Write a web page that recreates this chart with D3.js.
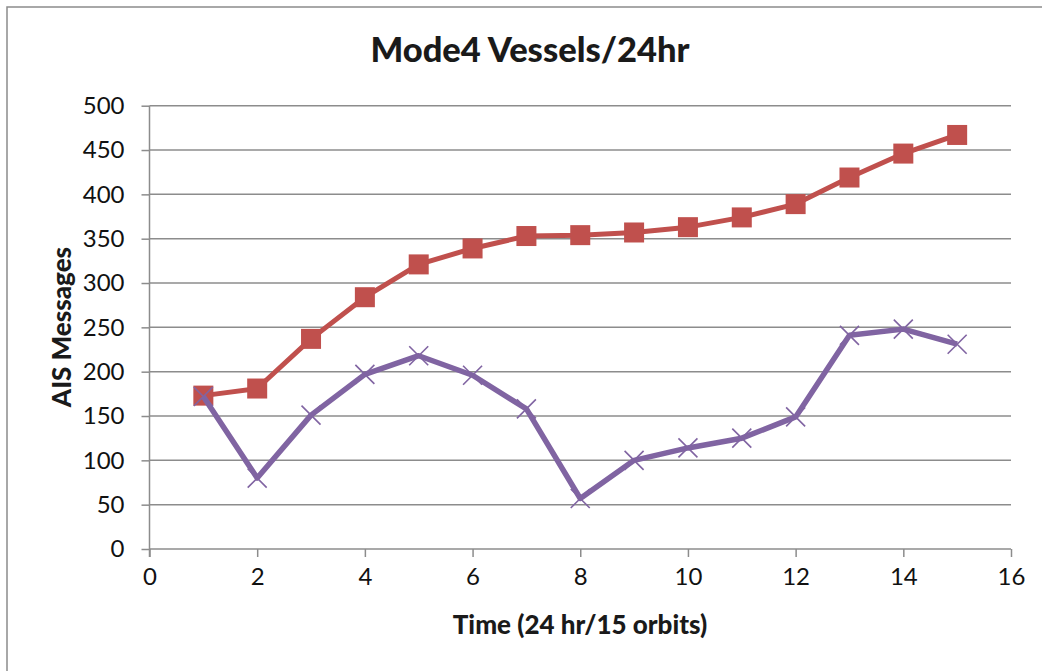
<!DOCTYPE html>
<html>
<head>
<meta charset="utf-8">
<script src="https://cdn.jsdelivr.net/npm/d3@7"></script>
<style>
  body { margin: 0; background: #fff; }
  svg { display: block; font-family: Lato, 'Open Sans', sans-serif; }
</style>
</head>
<body>
<svg id="chart" width="1042" height="671"></svg>
<script>
// data
const orbits = [1, 2, 3, 4, 5, 6, 7, 8, 9, 10, 11, 12, 13, 14, 15];
const cumulative = [173, 181, 237, 284, 321, 339, 353, 354, 357, 363, 374, 389, 419, 446, 467];
const perOrbit = [172, 80, 151, 197, 218, 196, 158, 57, 100, 114, 125, 149, 241, 248, 231];
const xTicks = [0, 2, 4, 6, 8, 10, 12, 14, 16];
const yTicks = [0, 50, 100, 150, 200, 250, 300, 350, 400, 450, 500];

const svg = d3.select('#chart');

// outer chart frame
svg.append('rect')
  .attr('x', 7).attr('y', 7)
  .attr('width', 1060).attr('height', 700)
  .attr('fill', 'none')
  .attr('stroke', '#8c8c8c')
  .attr('stroke-width', 1.5);

const x = d3.scaleLinear().domain([0, 16]).range([149.5, 1011]);
const y = d3.scaleLinear().domain([0, 500]).range([549, 105.7]);

// y axis: left tick marks + labels
const yAxis = svg.append('g')
  .attr('transform', `translate(${x(0)},0)`)
  .call(d3.axisLeft(y).tickValues(yTicks).tickSize(8).tickPadding(17));
yAxis.select('.domain').remove();
yAxis.selectAll('.tick line').attr('stroke', '#8c8c8c').attr('stroke-width', 1.5);
yAxis.selectAll('.tick text')
  .attr('fill', '#111')
  .style('font-size', '24px')
  .style('font-family', 'Lato, sans-serif');

// horizontal gridlines
svg.append('g')
  .selectAll('line')
  .data(yTicks)
  .join('line')
  .attr('x1', x(0)).attr('x2', x(16))
  .attr('y1', (d) => y(d)).attr('y2', (d) => y(d))
  .attr('stroke', '#8c8c8c')
  .attr('stroke-width', 1.5);

// vertical axis line
svg.append('line')
  .attr('x1', x(0)).attr('x2', x(0))
  .attr('y1', y(500)).attr('y2', y(0) + 8)
  .attr('stroke', '#8c8c8c')
  .attr('stroke-width', 1.5);

// x axis with downward ticks
const xAxis = svg.append('g')
  .attr('transform', `translate(0,${y(0)})`)
  .call(d3.axisBottom(x).tickValues(xTicks).tickSize(8).tickPadding(11));
xAxis.select('.domain').remove();
xAxis.selectAll('.tick line').attr('stroke', '#8c8c8c').attr('stroke-width', 1.5);
xAxis.selectAll('.tick text')
  .attr('fill', '#111')
  .style('font-size', '24px')
  .style('font-family', 'Lato, sans-serif');

// series lines
const line = d3.line()
  .x((d) => x(d[0]))
  .y((d) => y(d[1]));

const redPts = orbits.map((o, i) => [o, cumulative[i]]);
const purplePts = orbits.map((o, i) => [o, perOrbit[i]]);

svg.append('path')
  .datum(redPts)
  .attr('d', line)
  .attr('fill', 'none')
  .attr('stroke', '#c0504d')
  .attr('stroke-width', 5)
  .attr('stroke-linejoin', 'round');

svg.append('g')
  .selectAll('rect')
  .data(redPts)
  .join('rect')
  .attr('x', (d) => x(d[0]) - 10)
  .attr('y', (d) => y(d[1]) - 10)
  .attr('width', 20)
  .attr('height', 20)
  .attr('fill', '#c0504d');

svg.append('path')
  .datum(purplePts)
  .attr('d', line)
  .attr('fill', 'none')
  .attr('stroke', '#8064a2')
  .attr('stroke-width', 5.5)
  .attr('stroke-linejoin', 'round');

svg.append('g')
  .selectAll('path')
  .data(purplePts)
  .join('path')
  .attr('d', (d) => {
    const cx = x(d[0]), cy = y(d[1]), r = 9.5;
    return `M${cx - r},${cy - r}L${cx + r},${cy + r}M${cx - r},${cy + r}L${cx + r},${cy - r}`;
  })
  .attr('stroke', '#8064a2')
  .attr('stroke-width', 1.6)
  .attr('fill', 'none');

// titles
svg.append('text')
  .attr('x', 530).attr('y', 62)
  .attr('text-anchor', 'middle')
  .style('font-size', '34.5px')
  .style('font-weight', 900)
  .attr('fill', '#1a1a1a')
  .text('Mode4 Vessels/24hr');

svg.append('text')
  .attr('x', 580).attr('y', 634)
  .attr('text-anchor', 'middle')
  .style('font-size', '26px')
  .style('font-weight', 900)
  .attr('fill', '#1a1a1a')
  .text('Time (24 hr/15 orbits)');

svg.append('text')
  .attr('transform', 'translate(71,327) rotate(-90)')
  .attr('text-anchor', 'middle')
  .style('font-size', '26px')
  .style('font-weight', 900)
  .attr('fill', '#1a1a1a')
  .text('AIS Messages');
</script>
</body>
</html>
